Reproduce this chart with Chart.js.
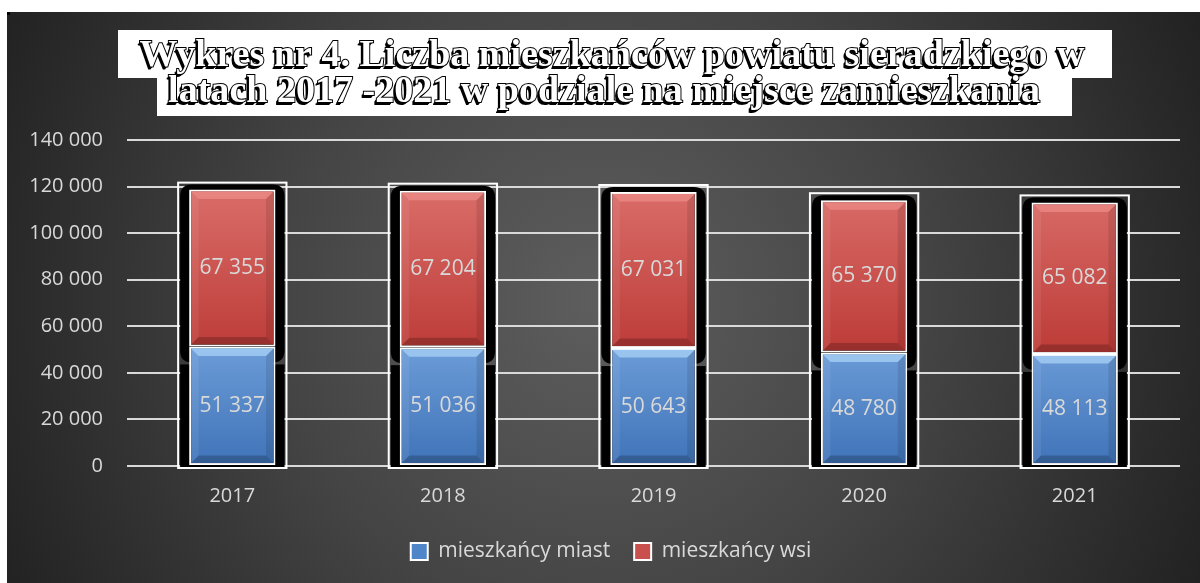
<!DOCTYPE html>
<html><head><meta charset="utf-8">
<script src="https://cdn.jsdelivr.net/npm/chart.js@4.4.1/dist/chart.umd.min.js"></script>
<style>html,body{margin:0;padding:0;background:#fff;overflow:hidden}#wrap{width:1200px;height:583px;position:relative}canvas{display:block}</style>
</head><body><div id="wrap"><canvas id="c" width="1200" height="583"></canvas></div>
<script>
const years = ['2017', '2018', '2019', '2020', '2021'];
const miasta = [51337, 51036, 50643, 48780, 48113];
const wsi = [67355, 67204, 67031, 65370, 65082];
const seriesNames = ['mieszkańcy miast', 'mieszkańcy wsi'];
const titleLines = ['Wykres nr 4. Liczba mieszkańców powiatu sieradzkiego w', 'latach 2017 -2021 w podziale na miejsce zamieszkania'];
const yMax = 140000;
const yStep = 20000;

const fmt = n => String(n).replace(/\B(?=(\d{3})+(?!\d))/g, ' ');
const TXT = '#d9d9d9';
const FONT = "'Open Sans', sans-serif";

function grad(c, top, bot, vTop, vBot) {
  const chart = c.chart;
  const ys = chart.scales && chart.scales.y;
  if (!chart.chartArea || !ys || ys.getPixelForValue(0) === undefined) return top;
  const g = chart.ctx.createLinearGradient(0, ys.getPixelForValue(vTop), 0, ys.getPixelForValue(vBot));
  g.addColorStop(0, top); g.addColorStop(1, bot);
  return g;
}

function rrect(ctx, x, y, w, h, r) {
  ctx.beginPath();
  ctx.moveTo(x + r, y);
  ctx.lineTo(x + w - r, y);
  ctx.quadraticCurveTo(x + w, y, x + w, y + r);
  ctx.lineTo(x + w, y + h - r);
  ctx.quadraticCurveTo(x + w, y + h, x + w - r, y + h);
  ctx.lineTo(x + r, y + h);
  ctx.quadraticCurveTo(x, y + h, x, y + h - r);
  ctx.lineTo(x, y + r);
  ctx.quadraticCurveTo(x, y, x + r, y);
  ctx.closePath();
}

const bgPlugin = {
  id: 'bg',
  afterLayout(chart) {
    if (chart.legend) { chart.legend.left += 21; chart.legend.right += 21; }
  },
  beforeDraw(chart) {
    const ctx = chart.ctx;
    ctx.save();
    ctx.fillStyle = '#fff';
    ctx.fillRect(0, 0, 1200, 583);
    const g = ctx.createRadialGradient(600, 300, 0, 600, 300, 720);
    g.addColorStop(0, '#5e5e5e');
    g.addColorStop(0.45, '#444444');
    g.addColorStop(1, '#1c1c1c');
    ctx.fillStyle = g;
    ctx.fillRect(7, 12, 1193, 571);
    ctx.fillStyle = '#000';
    ctx.fillRect(7, 12, 3, 3);
    ctx.fillStyle = '#fff';
    ctx.fillRect(118, 30, 994, 48);
    ctx.fillRect(157, 78, 915, 38);
    ctx.font = "bold 100px 'Liberation Serif', serif";
    const w1 = ctx.measureText(titleLines[0]).width;
    const size = 100 * 945 / w1;
    ctx.font = "bold " + size.toFixed(2) + "px 'Liberation Serif', serif";
    ctx.textAlign = 'center';
    ctx.textBaseline = 'alphabetic';
    const pos = [[612, 66], [604, 102]];
    titleLines.forEach((t, i) => {
      const [x, y] = pos[i];
      ctx.fillStyle = '#000';
      for (let k = 1; k <= 3; k++) ctx.fillText(t, x - k * 0.8, y + k);
      ctx.lineWidth = 2;
      ctx.strokeStyle = '#000';
      ctx.strokeText(t, x, y);
      ctx.fillStyle = '#fff';
      ctx.fillText(t, x, y);
    });
    ctx.restore();
  }
};

const framePlugin = {
  id: 'frames',
  beforeDatasetsDraw(chart) {
    const ctx = chart.ctx;
    const m0 = chart.getDatasetMeta(0), m1 = chart.getDatasetMeta(1);
    ctx.save();
    m0.data.forEach((b, i) => {
      const r = m1.data[i];
      const l = b.x - b.width / 2 - 11, rr = b.x + b.width / 2 + 11;
      const t = r.y - 7, bot = b.base + 3;
      const split = b.y + 16;
      ctx.fillStyle = '#000';
      rrect(ctx, l + 2, t + 2, rr - l - 4, split - t - 2, 12);
      ctx.fill();
      ctx.fillRect(l + 2, split + 2, rr - l - 4, bot - split - 2);
      ctx.strokeStyle = '#fff';
      ctx.lineWidth = 2;
      ctx.strokeRect(l, t, rr - l, bot - t);
    });
    ctx.restore();
  },
  afterDatasetsDraw(chart) {
    const ctx = chart.ctx;
    ctx.save();
    [0, 1].forEach(di => {
      const meta = chart.getDatasetMeta(di);
      const data = chart.data.datasets[di].data;
      meta.data.forEach((el, i) => {
        const l = el.x - el.width / 2 + 1.5, r = el.x + el.width / 2 - 1.5;
        const t = el.y + 1.5, b = el.base - 1.5;
        const d = 8;
        ctx.fillStyle = di === 0 ? 'rgba(185,225,255,0.6)' : 'rgba(255,170,165,0.4)';
        ctx.beginPath(); ctx.moveTo(l, t); ctx.lineTo(r, t); ctx.lineTo(r - d, t + d); ctx.lineTo(l + d, t + d); ctx.closePath(); ctx.fill();
        ctx.fillStyle = 'rgba(0,0,0,0.2)';
        ctx.beginPath(); ctx.moveTo(l, b); ctx.lineTo(r, b); ctx.lineTo(r - d, b - d); ctx.lineTo(l + d, b - d); ctx.closePath(); ctx.fill();
        ctx.fillStyle = 'rgba(255,255,255,0.07)';
        ctx.beginPath(); ctx.moveTo(l, t); ctx.lineTo(l + d, t + d); ctx.lineTo(l + d, b - d); ctx.lineTo(l, b); ctx.closePath(); ctx.fill();
        ctx.fillStyle = 'rgba(0,0,0,0.1)';
        ctx.beginPath(); ctx.moveTo(r, t); ctx.lineTo(r - d, t + d); ctx.lineTo(r - d, b - d); ctx.lineTo(r, b); ctx.closePath(); ctx.fill();
        ctx.fillStyle = TXT;
        ctx.font = "21px " + FONT;
        ctx.textAlign = 'center';
        ctx.textBaseline = 'middle';
        ctx.fillText(fmt(data[i]), el.x, (el.y + el.base) / 2);
      });
    });
    ctx.restore();
  }
};

const solid = ['#4f86c9', '#c9504c'];

new Chart(document.getElementById('c'), {
  type: 'bar',
  data: {
    labels: years,
    datasets: [
      { label: seriesNames[0], data: miasta,
        backgroundColor: c => grad(c, '#6b9bd7', '#3f73b8', 50000, 0),
        borderColor: '#fff', borderWidth: 2, borderSkipped: false },
      { label: seriesNames[1], data: wsi,
        backgroundColor: c => grad(c, '#d96c68', '#bd3c38', 118000, 50000),
        borderColor: '#fff', borderWidth: 2, borderSkipped: false }
    ]
  },
  options: {
    responsive: false,
    devicePixelRatio: 1,
    animation: false,
    layout: { padding: { left: 0, right: 20, top: 140, bottom: 11 } },
    plugins: {
      title: { display: false },
      tooltip: { enabled: false },
      legend: {
        position: 'bottom',
        labels: {
          color: TXT,
          font: { family: FONT, size: 21 },
          boxWidth: 17, boxHeight: 17, padding: 24,
          generateLabels(chart) {
            return chart.data.datasets.map((ds, i) => ({
              text: ds.label, fillStyle: solid[i], strokeStyle: '#fff', lineWidth: 2,
              fontColor: TXT, hidden: false, datasetIndex: i
            }));
          }
        }
      }
    },
    scales: {
      x: {
        stacked: true,
        grid: { display: false, drawTicks: false },
        border: { display: false },
        ticks: { color: TXT, font: { family: FONT, size: 20 }, padding: 18 },
        afterFit(s) { s.height = 51; }
      },
      y: {
        stacked: true,
        min: 0, max: yMax,
        grid: { color: '#d9d9d9', lineWidth: 2, drawTicks: false },
        border: { display: false },
        ticks: { stepSize: yStep, color: TXT, font: { family: FONT, size: 20 }, padding: 24, callback: v => fmt(v) },
        afterFit(s) { s.width = 127; }
      }
    },
    datasets: { bar: { barPercentage: 0.41, categoryPercentage: 1 } }
  },
  plugins: [bgPlugin, framePlugin]
});
</script>
</body></html>
